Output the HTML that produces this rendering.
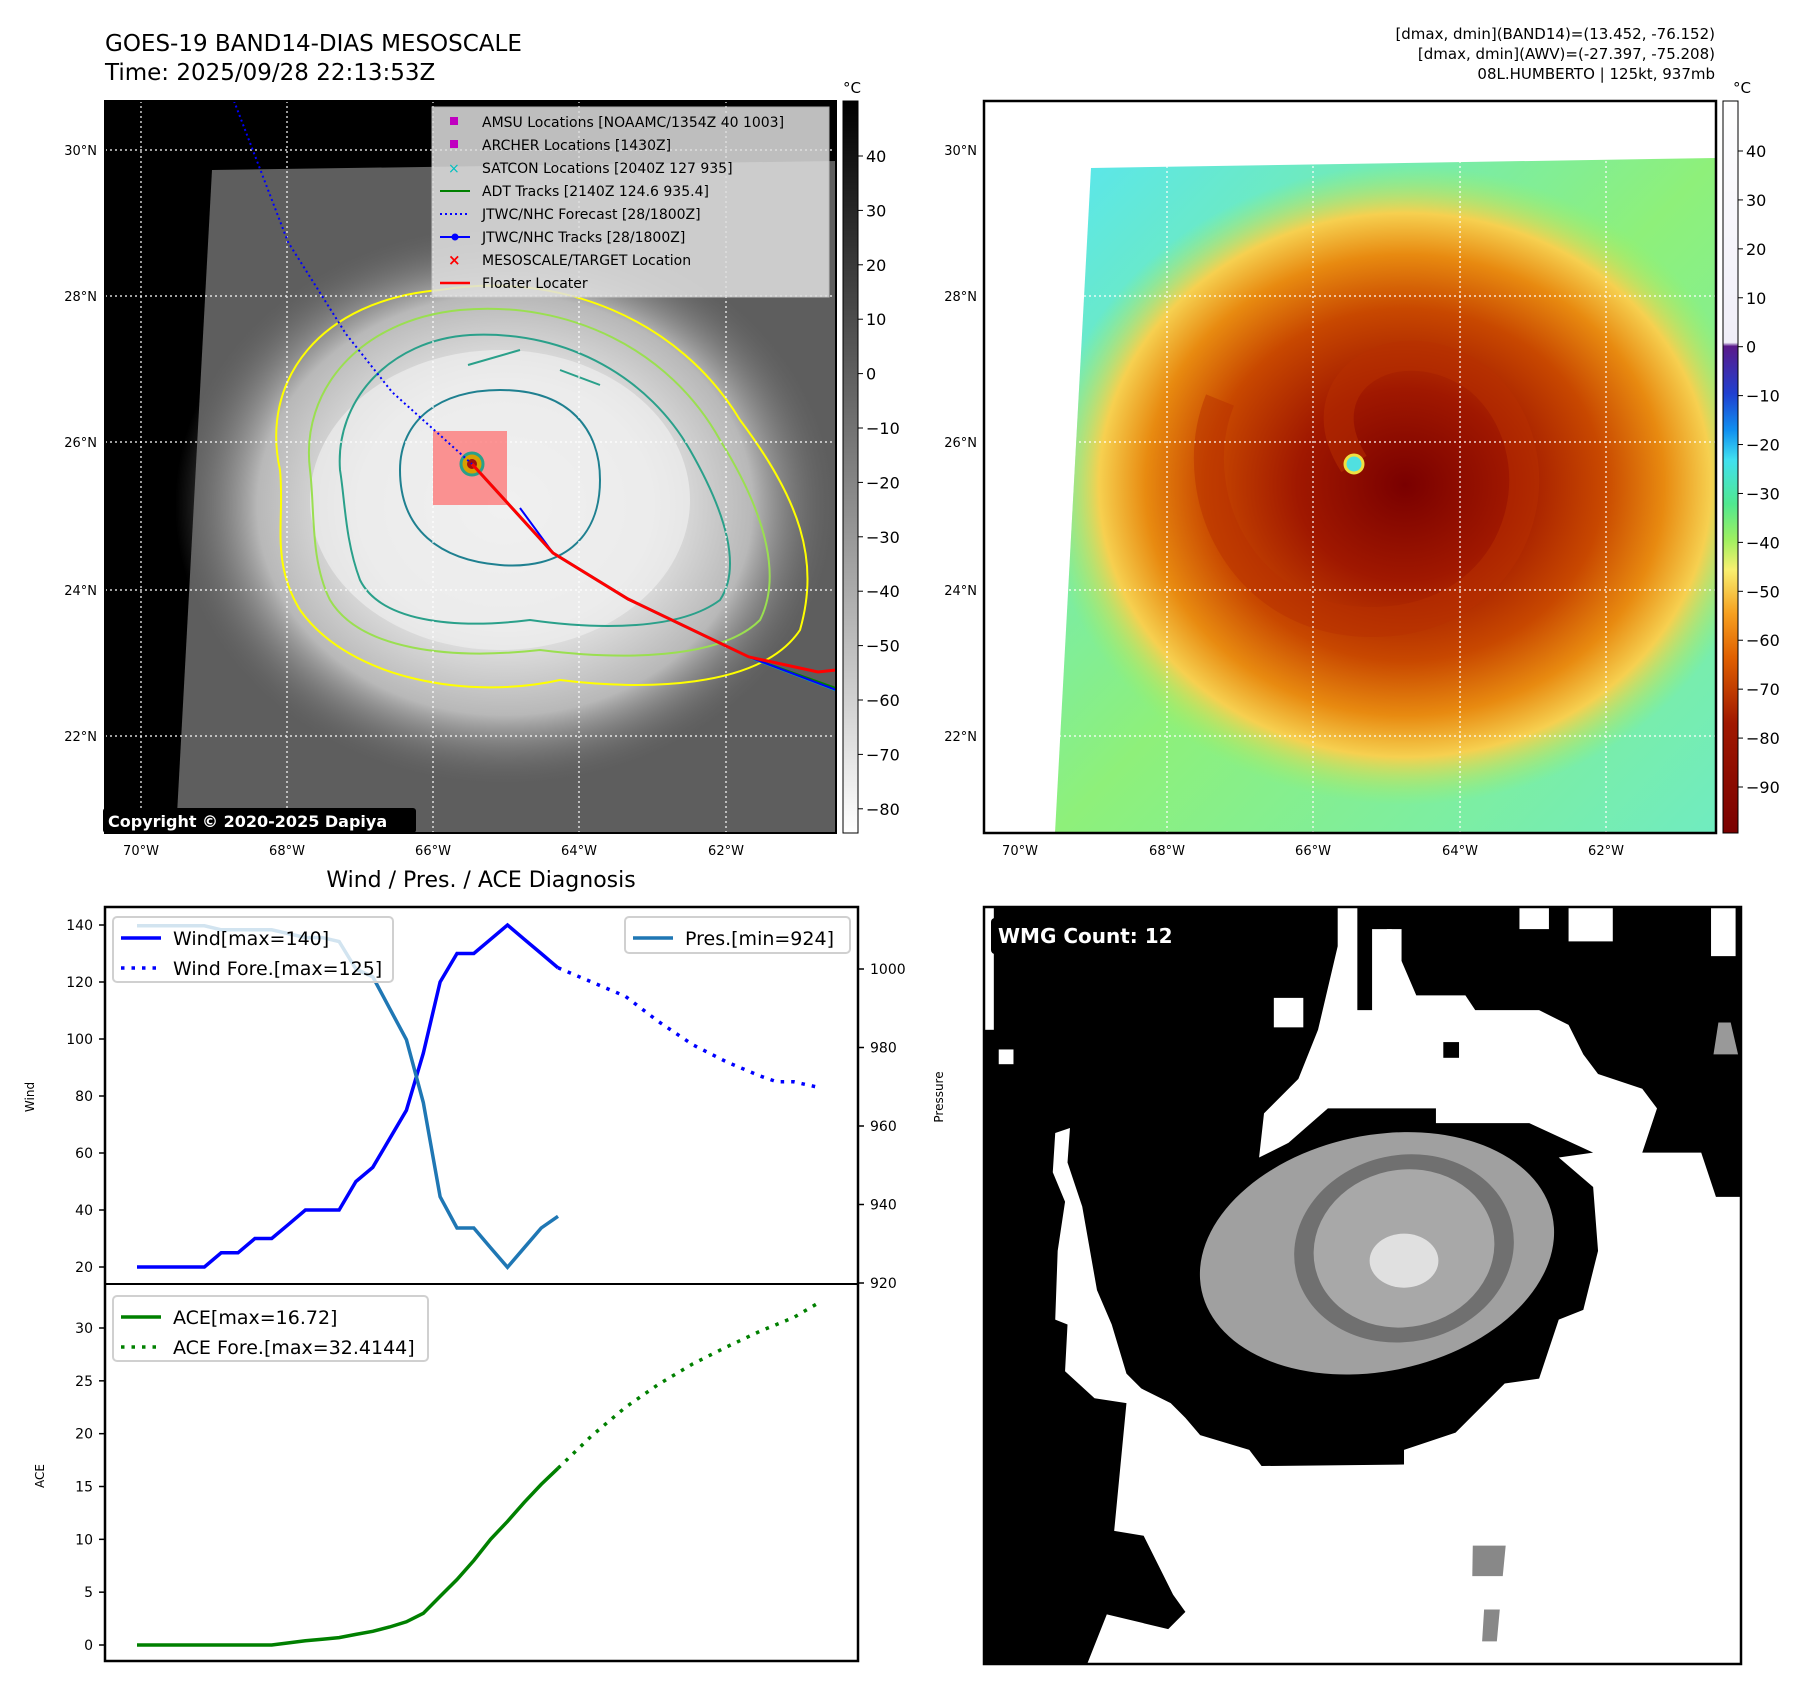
<!DOCTYPE html>
<html><head><meta charset="utf-8">
<style>
body{margin:0;background:#fff;font-family:"Liberation Sans","DejaVu Sans",sans-serif;}
svg text{font-family:"DejaVu Sans","Liberation Sans",sans-serif;}
</style></head>
<body>
<svg id="root" width="1797" height="1690" viewBox="0 0 1797 1690" xmlns="http://www.w3.org/2000/svg">
<defs>
 <radialGradient id="cloud" cx="0.5" cy="0.5" r="0.5">
  <stop offset="0" stop-color="#f4f4f4"/><stop offset="0.45" stop-color="#e6e6e6"/><stop offset="0.75" stop-color="#b8b8b8"/><stop offset="1" stop-color="#6a6a6a" stop-opacity="0"/>
 </radialGradient>
 <radialGradient id="storm" cx="0.5" cy="0.5" r="0.5">
  <stop offset="0" stop-color="#7a0000"/><stop offset="0.3" stop-color="#a01800"/><stop offset="0.55" stop-color="#c84800"/><stop offset="0.72" stop-color="#e88a10"/><stop offset="0.85" stop-color="#f6d050"/><stop offset="1" stop-color="#a0f060" stop-opacity="0"/>
 </radialGradient>
 <linearGradient id="bgcyan" x1="0" y1="0" x2="1" y2="1">
  <stop offset="0" stop-color="#58e6f0"/><stop offset="0.5" stop-color="#8ef07a"/><stop offset="1" stop-color="#70ecc0"/>
 </linearGradient>
 <linearGradient id="cbgray" x1="0" y1="0" x2="0" y2="1">
  <stop offset="0" stop-color="#000"/><stop offset="1" stop-color="#fff"/>
 </linearGradient>
 <linearGradient id="cbcolor" x1="0" y1="0" x2="0" y2="1">
  <stop offset="0" stop-color="#ffffff"/><stop offset="0.33" stop-color="#f0eef8"/>
  <stop offset="0.335" stop-color="#5a1a8a"/><stop offset="0.4" stop-color="#2040d0"/>
  <stop offset="0.45" stop-color="#1090f0"/><stop offset="0.49" stop-color="#40e0f0"/>
  <stop offset="0.55" stop-color="#50e890"/><stop offset="0.6" stop-color="#a0f060"/>
  <stop offset="0.64" stop-color="#f8f070"/><stop offset="0.7" stop-color="#f6a020"/>
  <stop offset="0.76" stop-color="#e06000"/><stop offset="0.85" stop-color="#a01800"/>
  <stop offset="1" stop-color="#7a0000"/>
 </linearGradient>
 <clipPath id="clipL"><rect x="105" y="101" width="731" height="732"/></clipPath>
 <clipPath id="clipR"><rect x="984" y="101" width="732" height="732"/></clipPath>
 <clipPath id="clipTrap"><polygon points="1091,168 1716,158 1716,833 1055,833"/></clipPath>
</defs>

<text x="105" y="51" font-size="23">GOES-19 BAND14-DIAS MESOSCALE</text>
<text x="105" y="80" font-size="23">Time: 2025/09/28 22:13:53Z</text>
<g font-size="15" text-anchor="end">
 <text x="1715" y="39">[dmax, dmin](BAND14)=(13.452, -76.152)</text>
 <text x="1715" y="59">[dmax, dmin](AWV)=(-27.397, -75.208)</text>
 <text x="1715" y="79">08L.HUMBERTO | 125kt, 937mb</text>
</g>

<!-- LEFT MAP -->
<g clip-path="url(#clipL)">
 <rect x="105" y="101" width="731" height="732" fill="#000"/>
 <polygon points="212,170 836,161 836,833 176,833" fill="#5e5e5e"/>
 <ellipse cx="505" cy="505" rx="330" ry="280" fill="url(#cloud)"/>
 <ellipse cx="500" cy="500" rx="190" ry="150" fill="#eeeeee" opacity="0.7"/>
 <path d="M280,470 C260,380 320,300 440,290 C560,270 680,320 740,420 C800,500 820,560 800,630 C760,690 640,690 560,680 C470,700 350,680 300,610 C270,560 285,520 280,470Z" fill="none" stroke="#ffff00" stroke-width="2"/>
 <path d="M310,470 C300,390 360,320 460,310 C570,300 670,350 720,440 C770,520 780,580 760,620 C720,660 620,660 540,650 C450,660 360,650 330,600 C310,560 315,510 310,470Z" fill="none" stroke="#9adf50" stroke-width="2"/>
 <path d="M340,470 C335,400 390,340 470,335 C570,330 650,380 690,450 C730,520 740,570 720,600 C680,630 600,630 530,620 C450,630 380,620 360,580 C345,540 345,500 340,470Z" fill="none" stroke="#2aa08a" stroke-width="2"/>
 <path d="M400,470 C400,420 440,390 500,390 C570,390 600,430 600,480 C600,540 560,570 500,565 C440,560 400,530 400,470Z" fill="none" stroke="#1f8090" stroke-width="2"/>
 <path d="M468,365 L520,350 M560,370 L600,385" stroke="#2aa08a" stroke-width="2"/>
 <g stroke="#fff" stroke-width="1.2" stroke-dasharray="2,3">
  <line x1="141" y1="101" x2="141" y2="833"/><line x1="287" y1="101" x2="287" y2="833"/><line x1="433" y1="101" x2="433" y2="833"/><line x1="579" y1="101" x2="579" y2="833"/><line x1="726" y1="101" x2="726" y2="833"/>
  <line x1="105" y1="150" x2="836" y2="150"/><line x1="105" y1="296" x2="836" y2="296"/><line x1="105" y1="442" x2="836" y2="442"/><line x1="105" y1="590" x2="836" y2="590"/><line x1="105" y1="736" x2="836" y2="736"/>
 </g>
 <rect x="433" y="431" width="74" height="74" fill="#ff6a6a" opacity="0.7"/>
 <circle cx="472" cy="464" r="11" fill="#d8a000" stroke="#2aa08a" stroke-width="3"/>
 <circle cx="472" cy="464" r="5" fill="#a01010"/>
 <polyline points="234,101 288,242 346,334 392,392 472,464" fill="none" stroke="#0000ff" stroke-width="2" stroke-dasharray="2,3"/>
 <polyline points="472,464 553,553 628,599 749,657 836,690" fill="none" stroke="#00b0b0" stroke-width="3"/>
 <polyline points="472,464 553,553 628,599 749,657 836,688" fill="none" stroke="#008000" stroke-width="2"/>
 <polyline points="520,508 553,553 628,599 749,657 836,690" fill="none" stroke="#0000ff" stroke-width="2"/>
 <polyline points="472,464 553,553 628,599 749,657 818,672 836,670" fill="none" stroke="#ff0000" stroke-width="3"/>
</g>
<rect x="105" y="101" width="731" height="732" fill="none" stroke="#000" stroke-width="2"/>
<g>
 <rect x="432" y="107" width="397" height="190" fill="#e0e0e0" opacity="0.85" stroke="#ccc"/>
 <g font-size="14">
  <rect x="450" y="117" width="8" height="8" fill="#c000c0"/><text x="482" y="127">AMSU Locations [NOAAMC/1354Z 40 1003]</text>
  <rect x="450" y="140" width="8" height="8" fill="#c000c0"/><text x="482" y="150">ARCHER Locations [1430Z]</text>
  <text x="448" y="173" fill="#00c0c0" font-size="14">×</text><text x="482" y="173">SATCON Locations [2040Z 127 935]</text>
  <line x1="440" y1="191" x2="470" y2="191" stroke="#008000" stroke-width="2"/><text x="482" y="196">ADT Tracks [2140Z 124.6 935.4]</text>
  <line x1="440" y1="214" x2="470" y2="214" stroke="#0000ff" stroke-width="2" stroke-dasharray="2,3"/><text x="482" y="219">JTWC/NHC Forecast [28/1800Z]</text>
  <line x1="440" y1="237" x2="470" y2="237" stroke="#0000ff" stroke-width="2"/><circle cx="455" cy="237" r="3.5" fill="#0000ff"/><text x="482" y="242">JTWC/NHC Tracks [28/1800Z]</text>
  <text x="448" y="265" fill="#ff0000" font-size="15" font-weight="bold">×</text><text x="482" y="265">MESOSCALE/TARGET Location</text>
  <line x1="440" y1="283" x2="470" y2="283" stroke="#ff0000" stroke-width="2.5"/><text x="482" y="288">Floater Locater</text>
 </g>
</g>
<g>
 <rect x="103" y="808" width="313" height="25" rx="3" fill="#000"/>
 <text x="108" y="827" font-size="16" font-weight="bold" fill="#fff">Copyright © 2020-2025 Dapiya</text>
</g>
<g font-size="13" text-anchor="end">
 <text x="97" y="155">30°N</text><text x="97" y="301">28°N</text><text x="97" y="447">26°N</text><text x="97" y="595">24°N</text><text x="97" y="741">22°N</text>
</g>
<g font-size="13" text-anchor="middle">
 <text x="141" y="855">70°W</text><text x="287" y="855">68°W</text><text x="433" y="855">66°W</text><text x="579" y="855">64°W</text><text x="726" y="855">62°W</text>
</g>
<g>
 <rect x="843" y="101" width="15" height="732" fill="url(#cbgray)" stroke="#000"/>
 <text x="852" y="93" font-size="15" text-anchor="middle">°C</text>
 <g font-size="16" id="cbL"></g>
</g>

<!-- RIGHT MAP -->
<g clip-path="url(#clipR)">
 <rect x="984" y="101" width="732" height="732" fill="#fff"/>
 <polygon points="1091,168 1716,158 1716,833 1055,833" fill="url(#bgcyan)"/>
 <g clip-path="url(#clipTrap)">
  <ellipse cx="1405" cy="485" rx="360" ry="320" fill="url(#storm)"/>
  <path d="M1354,464 C1300,380 1400,320 1480,380 C1560,450 1530,600 1400,620 C1250,640 1180,500 1220,400" fill="none" stroke="#b83000" stroke-width="30" opacity="0.5"/>
 </g>
 <circle cx="1354" cy="464" r="9" fill="#50e0e0" stroke="#f0e040" stroke-width="3"/>
 <g stroke="#fff" stroke-width="1.2" stroke-dasharray="2,3">
  <line x1="1020" y1="101" x2="1020" y2="833"/><line x1="1167" y1="101" x2="1167" y2="833"/><line x1="1313" y1="101" x2="1313" y2="833"/><line x1="1460" y1="101" x2="1460" y2="833"/><line x1="1606" y1="101" x2="1606" y2="833"/>
  <line x1="984" y1="150" x2="1716" y2="150"/><line x1="984" y1="296" x2="1716" y2="296"/><line x1="984" y1="442" x2="1716" y2="442"/><line x1="984" y1="590" x2="1716" y2="590"/><line x1="984" y1="736" x2="1716" y2="736"/>
 </g>
</g>
<rect x="984" y="101" width="732" height="732" fill="none" stroke="#000" stroke-width="2.5"/>
<g font-size="13" text-anchor="end">
 <text x="977" y="155">30°N</text><text x="977" y="301">28°N</text><text x="977" y="447">26°N</text><text x="977" y="595">24°N</text><text x="977" y="741">22°N</text>
</g>
<g font-size="13" text-anchor="middle">
 <text x="1020" y="855">70°W</text><text x="1167" y="855">68°W</text><text x="1313" y="855">66°W</text><text x="1460" y="855">64°W</text><text x="1606" y="855">62°W</text>
</g>
<g>
 <rect x="1723" y="101" width="15" height="732" fill="url(#cbcolor)" stroke="#000"/>
 <text x="1742" y="93" font-size="15" text-anchor="middle">°C</text>
 <g font-size="16" id="cbR"></g>
</g>

<!-- WMG panel -->
<g>
 <svg x="984" y="907" width="757" height="757" viewBox="0 0 1541 1541">
  <rect width="1541" height="1541" fill="#fff"/>
  <polygon fill="#000" points="0,0 720,0 720,80 680,250 640,350 570,420 560,510 620,480 700,410 920,410 920,440 1110,440 1240,500 1170,510 1240,570 1250,700 1220,820 1170,840 1130,960 1060,970 990,1040 960,1070 855,1105 855,1135 565,1138 540,1105 440,1075 410,1040 380,1010 320,980 290,950 260,850 230,780 200,610 170,520 175,450 145,460 140,540 165,600 150,700 145,840 170,850 165,945 225,1000 290,1010 265,1270 325,1280 355,1340 385,1400 410,1435 375,1470 250,1440 210,1541 0,1541"/>
  <polygon fill="#000" points="760,0 1541,0 1541,590 1490,590 1460,500 1340,500 1370,410 1340,370 1250,340 1220,300 1190,240 1130,210 1000,210 980,180 880,180 850,110 830,45 790,45 790,210 760,210"/>
  <g fill="#fff"><rect x="1090" y="0" width="60" height="45"/><rect x="1190" y="0" width="90" height="70"/><rect x="1480" y="0" width="50" height="100"/><rect x="30" y="290" width="30" height="30"/><rect x="590" y="185" width="60" height="60"/><rect x="0" y="0" width="20" height="250"/><rect x="820" y="45" width="30" height="100"/></g>
  <rect x="935" y="275" width="32" height="32" fill="#000"/>
  <ellipse cx="800" cy="705" rx="365" ry="240" transform="rotate(-12 800 705)" fill="#a0a0a0"/>
  <ellipse cx="855" cy="695" rx="225" ry="190" transform="rotate(-12 855 695)" fill="#707070"/>
  <ellipse cx="855" cy="695" rx="185" ry="160" transform="rotate(-12 855 695)" fill="#a8a8a8"/>
  <ellipse cx="855" cy="720" rx="70" ry="55" fill="#e0e0e0"/>
  <polygon points="995,1300 1062,1300 1056,1362 994,1362" fill="#888"/>
  <polygon points="1018,1430 1050,1430 1044,1495 1014,1495" fill="#888"/>
  <polygon points="1495,235 1520,235 1535,300 1485,300" fill="#999"/>
 </svg>
 <rect x="984" y="907" width="757" height="757" fill="none" stroke="#000" stroke-width="2.5"/>
 <rect x="991" y="918" width="197" height="36" rx="4" fill="#000"/>
 <text x="998" y="943" font-size="20" font-weight="bold" fill="#fff">WMG Count: 12</text>
</g>

<text x="481" y="887" font-size="22" text-anchor="middle">Wind / Pres. / ACE Diagnosis</text>
<g id="chart"></g>
</svg>

<script>
const windIdx = [0,1,2,3,4,5,6,7,8,9,10,11,12,13,14,15,16,17,18,19,20,21,22,23,24,25];
const windVals = [20,20,20,20,20,25,25,30,30,35,40,40,40,50,55,65,75,95,120,130,130,135,140,135,130,125];
const windForeIdx = [25,27,29,31,33,35,37,38,39,40.5];
const windForeVals = [125,120,115,106,98,92,87,85,85,83];
const presVals = [1011,1011,1011,1011,1011,1010,1010,1010,1010,1009,1008,1008,1007,1000,998,990,982,966,942,934,934,929,924,929,934,937];
const aceVals = [0,0,0,0,0,0,0,0,0,0.2,0.4,0.55,0.7,1.0,1.3,1.7,2.2,3.0,4.6,6.2,8.0,10.0,11.7,13.5,15.2,16.72];
const aceForeIdx = [25,27,29,31,33,35,37,39,40.5];
const aceForeVals = [16.72,19.8,22.5,24.7,26.6,28.2,29.7,31.0,32.4];
const windTicks = [20,40,60,80,100,120,140];
const presTicks = [920,940,960,980,1000];
const aceTicks = [0,5,10,15,20,25,30];
const cbLTicks = [40,30,20,10,0,-10,-20,-30,-40,-50,-60,-70,-80];
const cbRTicks = [40,30,20,10,0,-10,-20,-30,-40,-50,-60,-70,-80,-90];

const NS='http://www.w3.org/2000/svg';
function mk(tag, attrs, parent){const e=document.createElementNS(NS,tag);for(const k in attrs)e.setAttribute(k,attrs[k]);parent.appendChild(e);return e;}
const X = i => 137 + i*16.84;
const yW = v => 1267 - (v-20)*(342/120);
const yP = v => 1283 - (v-920)*(314/80);
const yA = v => 1645 - v*(317/30);
const g = document.getElementById('chart');
const L=105,R=858,T=907,M=1284,B=1661;

function line(xs, ys, stroke, w, dash, name){
  const pts = xs.map((x,i)=>x.toFixed(1)+','+ys[i].toFixed(1)).join(' ');
  const p = mk('polyline',{points:pts,fill:'none',stroke:stroke,'stroke-width':w},g);
  if(dash) p.setAttribute('stroke-dasharray',dash);
  
  
}
line(windIdx.map(X), windVals.map(yW), '#0000ff', 3.5, null, 'wind-line');
line(windForeIdx.map(X), windForeVals.map(yW), '#0000ff', 3.5, '3.5,7', 'wind-forecast-line');
line(windIdx.map(X), presVals.map(yP), '#1f77b4', 3.5, null, 'pressure-line');
line(windIdx.map(X), aceVals.map(yA), '#008000', 3.5, null, 'ace-line');
line(aceForeIdx.map(X), aceForeVals.map(yA), '#008000', 3.5, '3.5,7', 'ace-forecast-line');

mk('rect',{x:L,y:T,width:R-L,height:B-T,fill:'none',stroke:'#000','stroke-width':2.5},g);
mk('line',{x1:L,y1:M,x2:R,y2:M,stroke:'#000','stroke-width':2},g);

windTicks.forEach(v=>{const y=yW(v);mk('line',{x1:L-6,y1:y,x2:L,y2:y,stroke:'#000','stroke-width':1.5},g);
  const t=mk('text',{x:L-12,y:y+5,'font-size':14,'text-anchor':'end'},g);t.textContent=v;
  
  });
presTicks.forEach(v=>{const y=yP(v);mk('line',{x1:R,y1:y,x2:R+6,y2:y,stroke:'#000','stroke-width':1.5},g);
  const t=mk('text',{x:R+12,y:y+5,'font-size':14},g);t.textContent=v;
  
  });
aceTicks.forEach(v=>{const y=yA(v);mk('line',{x1:L-6,y1:y,x2:L,y2:y,stroke:'#000','stroke-width':1.5},g);
  const t=mk('text',{x:L-12,y:y+5,'font-size':14,'text-anchor':'end'},g);t.textContent=v;
  
  });

function vlabel(x,y,txt,name){const t=mk('text',{x:x,y:y,'font-size':12,'text-anchor':'middle',transform:`rotate(-90 ${x} ${y})`},g);t.textContent=txt;
  
  }
vlabel(34,1097,'Wind','wind-axis-title');
vlabel(943,1097,'Pressure','pressure-axis-title');
vlabel(44,1476,'ACE','ace-axis-title');

function legend(x,y,w,h,items,name){
  const lg=mk('g',{},g);
  
  
  mk('rect',{x:x,y:y,width:w,height:h,rx:4,fill:'#fff','fill-opacity':0.8,stroke:'#d0d0d0','stroke-width':2},lg);
  items.forEach((it,i)=>{const yy=y+21+i*30;
    const ln=mk('line',{x1:x+8,y1:yy,x2:x+48,y2:yy,stroke:it[1],'stroke-width':3.5},lg);
    if(it[2]) ln.setAttribute('stroke-dasharray','3.5,7');
    const t=mk('text',{x:x+60,y:yy+7,'font-size':19},lg);t.textContent=it[0];});
}
legend(113,917,280,65,[['Wind[max=140]','#0000ff',false],['Wind Fore.[max=125]','#0000ff',true]],'wind-legend');
legend(625,917,225,36,[['Pres.[min=924]','#1f77b4',false]],'pressure-legend');
legend(113,1296,315,65,[['ACE[max=16.72]','#008000',false],['ACE Fore.[max=32.4144]','#008000',true]],'ace-legend');

const cbl=document.getElementById('cbL');
cbLTicks.forEach(v=>{const y=156+(40-v)*5.44;mk('line',{x1:858,y1:y,x2:863,y2:y,stroke:'#000'},cbl);
  const t=mk('text',{x:866,y:y+6},cbl);t.textContent=(v<0?'\u2212'+(-v):v);
  
  });
const cbr=document.getElementById('cbR');
cbRTicks.forEach(v=>{const y=151+(40-v)*(636/130);mk('line',{x1:1738,y1:y,x2:1743,y2:y,stroke:'#000'},cbr);
  const t=mk('text',{x:1746,y:y+6},cbr);t.textContent=(v<0?'\u2212'+(-v):v);
  
  });
</script>
</body></html>
